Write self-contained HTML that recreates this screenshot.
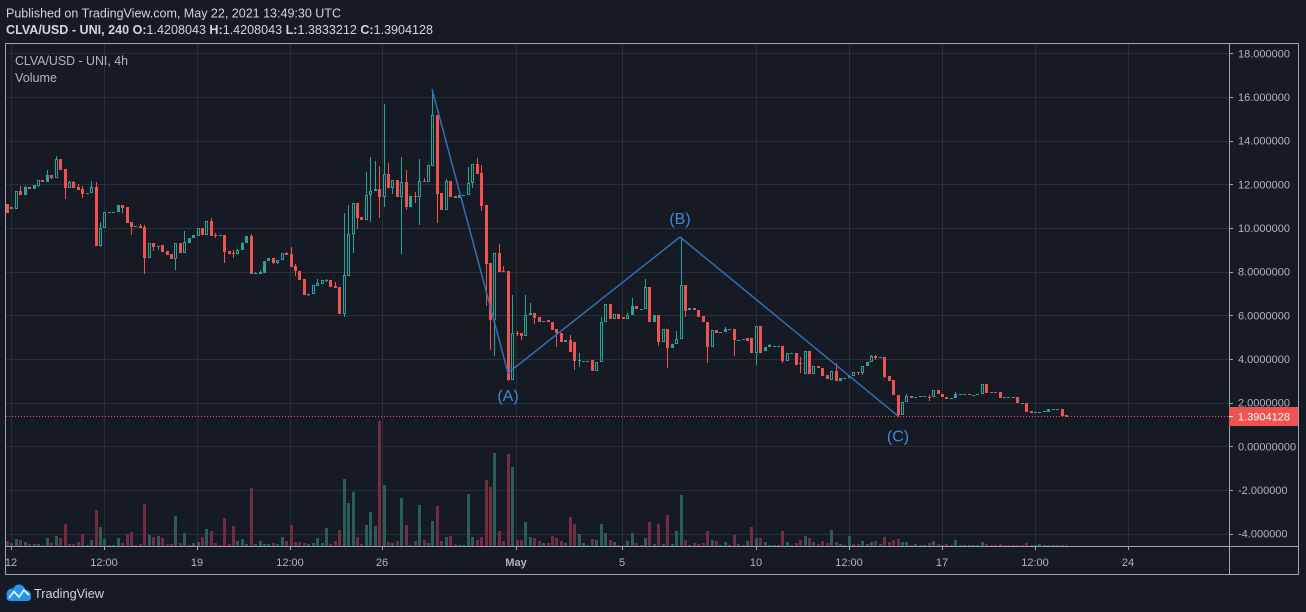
<!DOCTYPE html>
<html><head><meta charset="utf-8">
<style>
html,body{margin:0;padding:0;background:#161a25;width:1306px;height:612px;overflow:hidden}
svg{display:block}
text{font-family:"Liberation Sans",sans-serif}
</style></head>
<body>
<svg id="s" width="1306" height="612" viewBox="0 0 1306 612" xmlns="http://www.w3.org/2000/svg">
<rect width="1306" height="612" fill="#161a25"/>
<defs><clipPath id="pane"><rect x="6" y="44" width="1223" height="502"/></clipPath></defs>

<text x="6" y="17.3" font-size="13" fill="#d1d4dc" textLength="335" lengthAdjust="spacingAndGlyphs">Published on TradingView.com, May 22, 2021 13:49:30 UTC</text>
<text x="6" y="34" font-size="13" fill="#d1d4dc" textLength="427" lengthAdjust="spacingAndGlyphs"><tspan font-weight="bold">CLVA/USD - UNI, 240 O:</tspan>1.4208043<tspan font-weight="bold"> H:</tspan>1.4208043<tspan font-weight="bold"> L:</tspan>1.3833212<tspan font-weight="bold"> C:</tspan>1.3904128</text>

<g id="grid" clip-path="url(#pane)" stroke="#2a2e39" stroke-width="1"></g>
<g id="data" clip-path="url(#pane)"></g>

<g clip-path="url(#pane)">
<line x1="6" y1="416.5" x2="1229" y2="416.5" stroke="#ef5350" stroke-width="1" stroke-dasharray="1,2"/>
<polyline points="432,89 508,373 680,237 898,416" fill="none" stroke="#336fae" stroke-width="1.5"/>
</g>
<text x="508" y="401" font-size="16" fill="#4189d0" text-anchor="middle">(A)</text>
<text x="680" y="224" font-size="16" fill="#4189d0" text-anchor="middle">(B)</text>
<text x="898" y="441.5" font-size="16" fill="#4189d0" text-anchor="middle">(C)</text>

<text x="15" y="65" font-size="13" fill="#b2b5be" textLength="113" lengthAdjust="spacingAndGlyphs">CLVA/USD - UNI, 4h</text>
<text x="15" y="82" font-size="13" fill="#b2b5be" textLength="42" lengthAdjust="spacingAndGlyphs">Volume</text>

<!-- frame -->
<rect x="5.5" y="43.5" width="1293" height="531" fill="none" stroke="#a0a3ab" stroke-width="1"/>
<line x1="6" y1="546.5" x2="1299" y2="546.5" stroke="#a0a3ab" stroke-width="1"/>
<line x1="1229.5" y1="44" x2="1229.5" y2="575" stroke="#a0a3ab" stroke-width="1"/>

<g id="pticks" stroke="#a0a3ab" stroke-width="1"></g>
<g font-size="11" fill="#b2b5be">
<text x="1238" y="57.4">18.000000</text>
<text x="1238" y="101">16.000000</text>
<text x="1238" y="144.7">14.000000</text>
<text x="1238" y="188.3">12.000000</text>
<text x="1238" y="232">10.000000</text>
<text x="1238" y="275.7">8.0000000</text>
<text x="1238" y="319.3">6.0000000</text>
<text x="1238" y="363">4.0000000</text>
<text x="1238" y="406.6">2.0000000</text>
<text x="1238" y="450.3">0.00000000</text>
<text x="1238" y="494">-2.000000</text>
<text x="1238" y="537.6">-4.000000</text>
</g>
<rect x="1229" y="407" width="69" height="19" fill="#ef5350"/>
<line x1="1229" y1="416.5" x2="1233" y2="416.5" stroke="#ffffff" stroke-width="1"/>
<text x="1238" y="420.5" font-size="11" fill="#ffffff">1.3904128</text>

<g id="tticks" stroke="#a0a3ab" stroke-width="1"></g>
<g font-size="11" fill="#b2b5be" text-anchor="middle">
<text x="11" y="566">12</text>
<text x="104" y="566">12:00</text>
<text x="197" y="566">19</text>
<text x="290" y="566">12:00</text>
<text x="382" y="566">26</text>
<text x="516" y="566" font-weight="bold">May</text>
<text x="622" y="566">5</text>
<text x="756" y="566">10</text>
<text x="849" y="566">12:00</text>
<text x="942" y="566">17</text>
<text x="1035" y="566">12:00</text>
<text x="1128" y="566">24</text>
</g>

<!-- logo -->
<g>
<circle cx="12" cy="594" r="5.5" fill="#2196f3"/>
<circle cx="19" cy="590.5" r="6" fill="#2196f3"/>
<circle cx="26" cy="595" r="5" fill="#2196f3"/>
<rect x="6.5" y="594" width="24.5" height="7" rx="3.5" fill="#2196f3"/>
<polyline points="9,598 14,591.5 19,597 24,590 29,595" fill="none" stroke="#ffffff" stroke-width="1.6"/>
</g>
<text x="34" y="598" font-size="13" fill="#d1d4dc" textLength="70" lengthAdjust="spacingAndGlyphs">TradingView</text>
</svg>

<script>
(function(){
var NS='http://www.w3.org/2000/svg';
var R='#ef5350',G='#26a69a',RV='#712e3f',GV='#2a5d55',BG='#161a25';
var C=[
[204,213,'r'],[207,209,'t'],[191,209,'h'],[191,195,'r',186],[187,195,'t',186],[187,189,'r'],[185,189,'t'],[180,186,'h',180,187],[180,182,'r'],[175,182,'t',170],
[175,178,'r',175,179],[159,178,'h',156],[159,170,'r'],[169,188,'r',169,199],[182,188,'h',181],[182,188,'r',181],[187,190,'r',184],[189,194,'r',186,198],[193,194,'t'],[187,193,'h',181],
[187,246,'r',182],[228,246,'h',222,247],[212,228,'h'],[212,213,'t'],[212,213,'t'],[205,212,'t'],[205,208,'r',205,213],[207,223,'r'],[222,227,'r',222,235],[226,227,'t'],
[226,228,'r',224],[227,258,'r',225,274],[243,258,'h'],[243,247,'r',243,251],[246,247,'t',246,250],[245,252,'r'],[251,255,'r'],[254,259,'r'],[243,259,'h',243,270],[243,253,'r'],
[242,253,'h',231],[238,243,'t'],[235,238,'t'],[228,236,'h'],[228,235,'r'],[221,235,'h'],[221,236,'r',218],[235,236,'r',233,238],[235,236,'t'],[235,252,'r',235,263],
[251,254,'r'],[253,254,'r',250,258],[250,254,'h',249],[243,250,'t',242],[236,243,'t'],[236,274,'r',234],[273,274,'t',272],[272,274,'t',270],[261,273,'t'],[258,261,'t'],
[258,263,'r',258,264],[260,263,'h',260,264],[253,260,'h'],[253,255,'r',252],[254,267,'r',247],[266,271,'r',264,276],[271,280,'r'],[279,295,'r'],[294,295,'t',294,296],[285,294,'h'],
[283,286,'h',279],[280,284,'h'],[280,281,'t',279,282],[280,287,'r'],[286,288,'r',282],[287,314,'r'],[275,314,'h',213,317],[234,276,'h',205],[203,234,'h',203,253],[203,218,'r',203,229],
[217,220,'r'],[195,220,'h',172],[191,195,'h',157,222],[189,191,'h',161],[189,197,'r',166,218],[174,197,'h',104,207],[174,188,'r',163],[180,188,'h',180,194],[180,197,'r'],[182,197,'h',157,254],
[182,207,'r',170,210],[196,207,'t'],[196,197,'r',192,203],[181,197,'h',159,225],[181,182,'r',178],[165,182,'h'],[115,166,'h',89],[115,194,'r',115,223],[193,210,'r'],[181,210,'h',179],
[181,197,'r'],[196,198,'r'],[195,198,'t'],[195,196,'t'],[183,195,'h',167],[164,183,'h',164,188],[164,174,'r',158],[173,206,'r',165,211],[205,264,'r',205,306],[263,320,'r',263,350],
[253,320,'h',253,356],[253,272,'r',244],[271,272,'r',266],[271,380,'r',271,381],[333,380,'h',295],[333,334,'r',331,336],[333,336,'r',333,340],[315,336,'h',295],[313,315,'t',303],[313,318,'r',313,324],
[317,322,'r'],[321,322,'t'],[320,322,'r'],[322,330,'r'],[329,333,'r',329,347],[333,342,'r'],[340,342,'t'],[340,352,'r',335],[342,361,'r',342,370],[360,361,'t',353,367],
[361,362,'t'],[361,362,'t'],[360,371,'r'],[362,371,'h'],[322,362,'h',317],[304,322,'h'],[304,319,'r'],[314,319,'h'],[314,319,'r'],[317,319,'r'],
[315,319,'h',313],[306,315,'t',298],[306,309,'r'],[309,310,'t'],[287,309,'h',279],[287,322,'r'],[315,322,'t'],[315,342,'r',315,346],[329,342,'h'],[329,348,'r',329,368],
[344,348,'t'],[339,344,'h',331],[285,339,'h',237],[285,311,'r',285,317],[308,310,'t'],[308,310,'r'],[310,317,'r'],[316,322,'r'],[322,347,'r',322,363],[330,347,'h'],
[330,333,'r'],[332,333,'t'],[329,332,'t',327],[329,330,'t'],[329,340,'r',329,356],[340,341,'t'],[339,340,'t'],[338,341,'r'],[338,353,'r'],[326,353,'h',326,365],
[326,353,'r'],[347,351,'t'],[345,347,'t',344],[346,347,'t'],[346,347,'t'],[346,361,'r',346,363],[353,361,'h'],[353,354,'t'],[353,365,'r'],[363,364,'r',357,373],
[351,374,'h'],[351,374,'r'],[366,374,'h'],[366,368,'r'],[368,376,'r'],[375,379,'r'],[371,380,'h'],[371,381,'r',363],[378,381,'t'],[378,379,'t'],
[376,378,'h'],[372,376,'h'],[372,373,'r',372,375],[366,373,'h',366,375],[362,366,'t'],[356,362,'h',355],[356,358,'r',355,360],[357,358,'t'],[357,377,'r',357,378],[376,381,'r'],
[380,395,'r'],[395,415,'r',395,417],[402,415,'h'],[396,402,'h',394],[396,398,'r'],[397,398,'t'],[396,397,'t'],[396,397,'t'],[397,398,'r',395,401],[390,397,'h'],
[390,394,'r'],[394,397,'r'],[397,399,'r'],[398,399,'t'],[394,398,'t',392],[394,395,'t'],[394,395,'t'],[394,395,'r'],[395,396,'t'],[394,395,'t'],
[384,394,'h'],[384,393,'r'],[392,393,'r'],[392,393,'t'],[392,398,'r'],[397,398,'t'],[397,398,'t'],[397,398,'t'],[397,403,'r'],[403,404,'t'],
[403,412,'r'],[411,413,'r'],[412,413,'t'],[412,413,'t'],[411,412,'t'],[409,412,'t'],[409,410,'t'],[409,410,'t'],[409,416,'r'],[415,417,'r']
];
var V=("r5 g3 g7 r6 g4 r2 g2 g2 r1 g8 r3 g10 r8 r22 g2 r2 r4 r12 g1 g6 r36 g19 g7 r1 g1 g8 r3 r12 r14 g1 "+
"r2 r42 g11 r9 g10 r8 r2 r2 g30 r3 g13 g1 g3 g4 r9 g17 r15 r3 g1 r28 r2 r20 g5 g7 g2 r58 g2 g5 g2 g2 "+
"r3 g2 g9 r5 r21 r4 r4 r3 g2 g3 g8 g3 g18 r2 r5 r16 g67 g43 g54 r9 r2 g21 g34 g20 r125 g61 r4 g3 r5 g48 "+
"r21 g1 r5 g41 r6 g3 g25 r40 r5 g9 r10 r2 g1 g1 g52 g9 r6 r9 r66 r59 g93 r15 r5 r92 g79 r6 r6 g24 g9 r8 r5 "+
"g3 r3 r10 r8 r5 g3 r29 r22 g12 g3 g1 r7 g6 g22 g13 r6 g4 r1 r1 g5 g13 r3 g1 g8 r24 g2 r22 g2 r31 g2 g15 g51 r6 g1 r3 r2 r3 r15 g6 r5 "+
"g1 g4 g1 r11 g2 g1 g5 r19 g8 r8 g4 g1 g1 g1 r15 g4 g1 r3 r6 g10 r8 g4 r2 r5 r3 g16 r4 g2 g1 g10 r2 r2 g5 g2 g4 r5 g2 r9 r4 r6 "+
"r7 g4 g4 r1 g2 g1 g1 r3 g5 r2 g1 r2 g1 g6 g1 g1 g1 g1 g1 g4 r2 r1 r1 r2 r1 r1 r1 r1 r1 r3 r1 g1 g2 g1 g1 g1 g1 r1 r1").split(' ');

var s='';
for(var i=0;i<C.length;i++){
  var cx=Math.round(7+i*4.431);
  if(i<V.length){
    var vc=V[i].charAt(0), vh=+V[i].slice(1);
    s+='<rect x="'+(cx-1)+'" y="'+(546-vh)+'" width="3" height="'+vh+'" fill="'+(vc=='r'?RV:GV)+'"/>';
  }
}
for(var i=0;i<C.length;i++){
  var cx=Math.round(7+i*4.431);
  var d=C[i],t=d[0],b=d[1],ty=d[2];
  var hi=(d[3]!==undefined)?d[3]:t, lo=(d[4]!==undefined)?d[4]:b;
  var col=(ty=='r')?R:G;
  if(hi<t) s+='<rect x="'+cx+'" y="'+hi+'" width="1" height="'+(t-hi)+'" fill="'+col+'"/>';
  if(lo>b) s+='<rect x="'+cx+'" y="'+b+'" width="1" height="'+(lo-b)+'" fill="'+col+'"/>';
  if(ty=='h' && b-t>=3){
    s+='<rect x="'+(cx-0.5)+'" y="'+(t+0.5)+'" width="2" height="'+(b-t-1)+'" fill="'+BG+'" stroke="'+col+'" stroke-width="1"/>';
  } else {
    s+='<rect x="'+(cx-1)+'" y="'+t+'" width="3" height="'+Math.max(1,b-t)+'" fill="'+col+'"/>';
  }
}
document.getElementById('data').innerHTML=s;

var g='';
var py=[53.4,97,140.7,184.3,228,271.7,315.3,359,402.6,446.3,490,533.6];
var pt='';
for(var k=0;k<py.length;k++){
  var y=Math.round(py[k])+0.5;
  g+='<line x1="6" y1="'+y+'" x2="1229" y2="'+y+'"/>';
  pt+='<line x1="1229" y1="'+y+'" x2="1233" y2="'+y+'"/>';
}
var tx=[11,104,197,290,382,516,622,756,849,942,1035,1128];
var tt='';
for(var k=0;k<tx.length;k++){
  var x=tx[k]+0.5;
  g+='<line x1="'+x+'" y1="44" x2="'+x+'" y2="546"/>';
  tt+='<line x1="'+x+'" y1="546" x2="'+x+'" y2="550"/>';
}
document.getElementById('grid').innerHTML=g;
document.getElementById('pticks').innerHTML=pt;
document.getElementById('tticks').innerHTML=tt;
})();
</script>
</body></html>
